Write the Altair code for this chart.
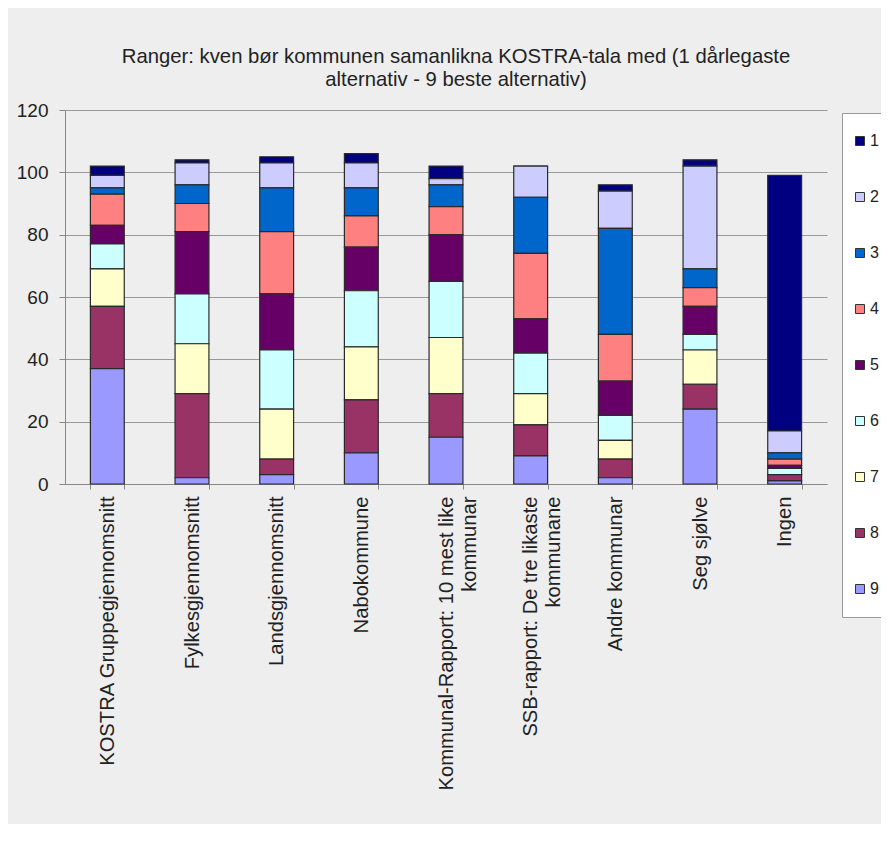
import altair as alt
import pandas as pd

categories = [
    "KOSTRA Gruppegjennomsnitt",
    "Fylkesgjennomsnitt",
    "Landsgjennomsnitt",
    "Nabokommune",
    "Kommunal-Rapport: 10 mest like\nkommunar",
    "SSB-rapport: De tre likaste\nkommunane",
    "Andre kommunar",
    "Seg sjølve",
    "Ingen",
]
series = ["1", "2", "3", "4", "5", "6", "7", "8", "9"]

# values per series, in category order
s1 = [3, 1, 2, 3, 4, 0, 2, 2, 82]
s2 = [4, 7, 8, 8, 2, 10, 12, 33, 7]
s3 = [2, 6, 14, 9, 7, 18, 34, 6, 2]
s4 = [10, 9, 20, 10, 9, 21, 15, 6, 2]
s5 = [6, 20, 18, 14, 15, 11, 11, 9, 1]
s6 = [8, 16, 19, 18, 18, 13, 8, 5, 2]
s7 = [12, 16, 16, 17, 18, 10, 6, 11, 0]
s8 = [20, 27, 5, 17, 14, 10, 6, 8, 2]
s9 = [37, 2, 3, 10, 15, 9, 2, 24, 1]

colors = ["#000080", "#CCCCFF", "#0066CC", "#FF8080", "#660066",
          "#CCFFFF", "#FFFFCC", "#993366", "#9999FF"]

title_lines = ["Ranger: kven bør kommunen samanlikna KOSTRA-tala med (1 dårlegaste",
               "alternativ - 9 beste alternativ)"]

rows = []
for name, vals in zip(series, [s1, s2, s3, s4, s5, s6, s7, s8, s9]):
    for cat, v in zip(categories, vals):
        rows.append({"kategori": cat, "serie": name, "nr": int(name), "verdi": v})
df = pd.DataFrame(rows)

FONT = "Liberation Sans"

chart = alt.Chart(df).mark_bar(stroke="#2a2a2a", strokeWidth=1.2).encode(
    x=alt.X("kategori:N", sort=categories, title=None,
            scale=alt.Scale(paddingInner=0.6, paddingOuter=0.3),
            axis=alt.Axis(labelAngle=270, labelFont=FONT, labelFontSize=20.2,
                          labelColor="#222222", labelPadding=7,
                          labelExpr="split(datum.label, '\\n')",
                          labelLineHeight=23, labelLimit=400,
                          tickBand="extent", tickSize=5, tickColor="#888888",
                          domainColor="#888888", grid=False)),
    y=alt.Y("verdi:Q", stack="zero", title=None,
            scale=alt.Scale(domain=[0, 120], nice=False),
            axis=alt.Axis(values=[0, 20, 40, 60, 80, 100, 120],
                          labelFont=FONT, labelFontSize=19, labelColor="#222222",
                          labelPadding=11, tickSize=6, tickColor="#888888",
                          domainColor="#888888", gridColor="#999999",
                          gridWidth=1)),
    color=alt.Color("serie:N",
                    scale=alt.Scale(domain=series, range=colors),
                    legend=alt.Legend(title=None, orient="none",
                                      legendX=777, legendY=3,
                                      symbolType="square", symbolSize=81,
                                      symbolStrokeColor="#333333",
                                      symbolStrokeWidth=1,
                                      labelFont=FONT, labelFontSize=16,
                                      labelColor="#222222", labelOffset=2,
                                      padding=10, rowPadding=20,
                                      clipHeight=36,
                                      fillColor="#FFFFFF",
                                      strokeColor="#999999")),
    order=alt.Order("nr:Q", sort="descending"),
).properties(
    width=762,
    height=374,
    background="#EEEEEE",
    padding={"left": 57, "top": 102, "right": 54, "bottom": 340},
    autosize=alt.AutoSizeParams(type="none"),
    title=alt.TitleParams(title_lines, font=FONT, fontSize=20.3,
                          fontWeight="normal", color="#222222",
                          anchor="middle", dx=10, offset=11,
                          lineHeight=23),
).configure_view(stroke=None)

chart.save("out.html", embed_options={"renderer": "svg", "actions": False})
